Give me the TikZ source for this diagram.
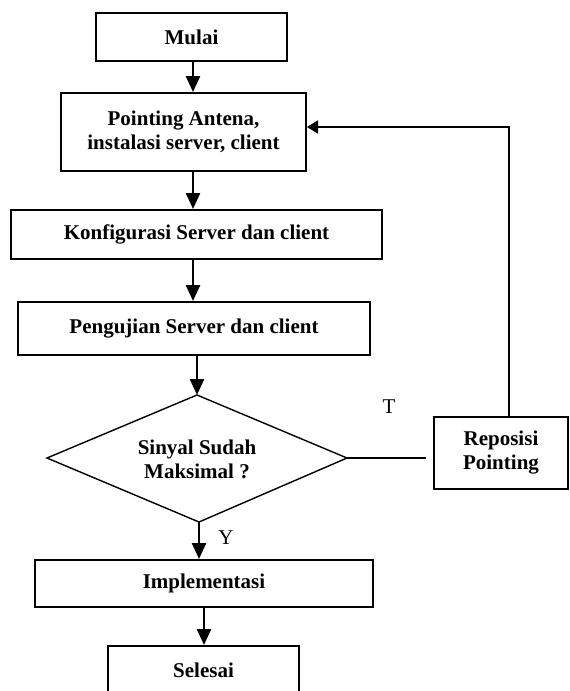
\documentclass[tikz,border=0pt]{standalone}
\usepackage{fontspec}
\setmainfont{Liberation Serif}
\usetikzlibrary{arrows.meta}
\tikzset{
  stepbox/.style={draw, line width=2pt, inner sep=0pt, align=center,
    font=\bfseries\fontsize{21}{24}\selectfont},
  lbl/.style={inner sep=0pt, font=\fontsize{21}{24}\selectfont},
  arr/.style={line width=2.5pt, -{Triangle[width=14pt,length=16pt]}},
  fbline/.style={line width=1.7pt},
  fbarr/.style={line width=1.7pt, -{Triangle[width=13pt,length=11pt]}},
  diam/.style={line width=1.4pt, line join=miter},
}
\begin{document}
\begin{tikzpicture}[x=1pt,y=-1pt]
\useasboundingbox (0,0) rectangle (570,691);

% boxes
\node[stepbox, minimum width=191pt, minimum height=48pt] (mulai) at (191.5,37) {Mulai};
\node[stepbox, minimum width=245pt, minimum height=78pt] (point) at (183.5,132) {Pointing Antena,\\instalasi server, client};
\node[stepbox, minimum width=371pt, minimum height=49pt] (konf) at (196.5,234.5) {Konfigurasi Server dan client};
\node[stepbox, minimum width=352pt, minimum height=53pt] (uji) at (194,328.5) {Pengujian Server dan client};
\node[stepbox, minimum width=134pt, minimum height=72pt] (repos) at (501,453) {Reposisi\\Pointing};
\node[stepbox, minimum width=338pt, minimum height=47pt] (impl) at (204,583.5) {Implementasi};
\node[stepbox, minimum width=191pt, minimum height=49pt] (selesai) at (203.5,670.5) {Selesai};

% decision diamond
\coordinate (dtop) at (197,395);
\coordinate (dbot) at (199,522);
\coordinate (dleft) at (47,458);
\coordinate (dright) at (347,458);
\draw[diam] (dtop) -- (dright) -- (dbot) -- (dleft) -- cycle;
\node[stepbox, draw=none] (dtext) at (197,459) {Sinyal Sudah\\Maksimal ?};

% axis coordinates
\coordinate (axis) at (193,0);
\coordinate (fb) at (509,127);

% connectors
\draw[arr] (mulai.south -| axis) -- (point.north -| axis);
\draw[arr] (point.south -| axis) -- (konf.north -| axis);
\draw[arr] (konf.south -| axis) -- (uji.north -| axis);
\draw[arr] (uji.south -| dtop) -- (dtop);
\draw[arr] (dbot) -- (impl.north -| dbot);
\draw[arr] (impl.south) -- (selesai.north -| impl.south);
\draw[fbline, shorten >=7pt] (dright) -- (dright -| repos.west);
\draw[fbarr] (repos.north -| fb) -- (fb) -- (fb -| point.east);

% labels
\node[lbl] (tlab) at (389,407) {T};
\node[lbl] (ylab) at (226,538) {Y};
\end{tikzpicture}
\end{document}
